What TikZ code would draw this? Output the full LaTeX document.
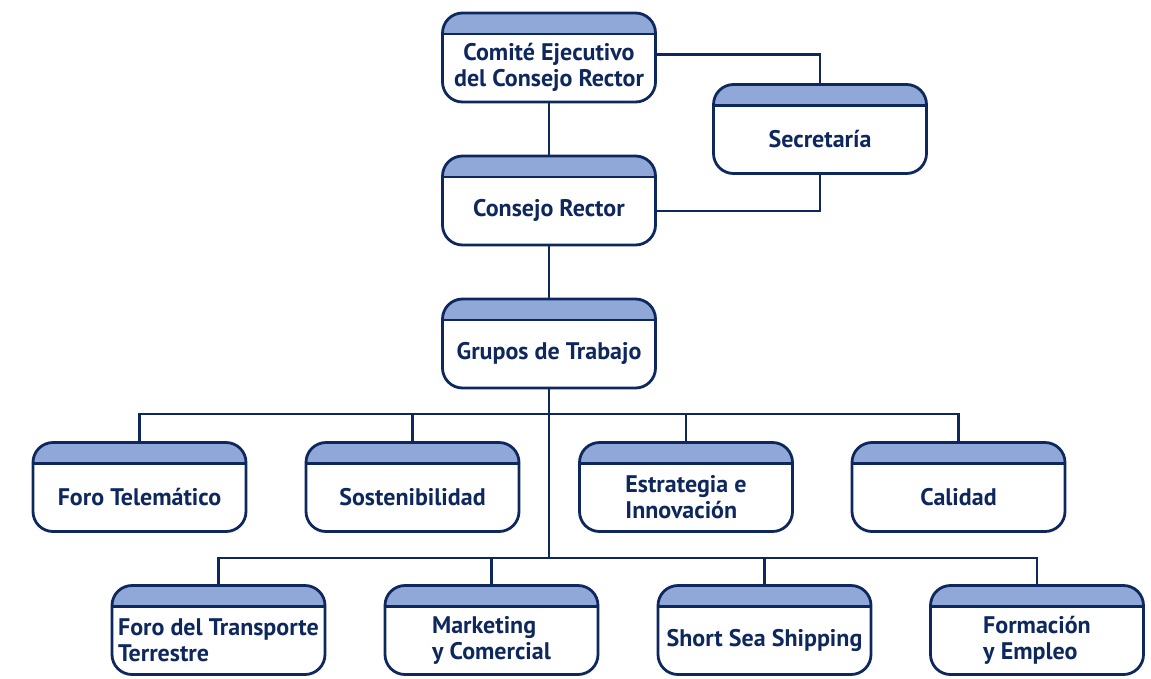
\documentclass[tikz,border=0pt]{standalone}
\usepackage{xcolor}
\usepackage{fontspec}
\setmainfont{PT Sans}
\usepackage{tikz}
\usetikzlibrary{positioning,calc}
\definecolor{navy}{RGB}{14,40,94}
\definecolor{bandblue}{RGB}{143,168,215}
\tikzset{
  box/.style={rectangle,rounded corners=20pt,fill=white,outer sep=0pt,
    minimum width=213pt,minimum height=89pt,inner sep=0pt},
  frame/.style={draw=navy,line width=2.8pt,rounded corners=20pt},
  txt/.style={font=\bfseries\fontsize{24}{26}\selectfont,text=navy,align=center,yshift=-10pt},
  link/.style={draw=navy,line width=2.6pt}
}
\begin{document}
\begin{tikzpicture}[x=1pt,y=-1pt]
\useasboundingbox (0,0) rectangle (1151,678);
% top
\node[box,label={[txt]center:Comité Ejecutivo\\del Consejo Rector}] (cej) at (549,57.5) {};
\node[box,label={[txt]center:Secretaría}] (sec) at (820,129) {};
\node[box,label={[txt]center:Consejo Rector}] (cr) at (549,200.5) {};
\node[box,label={[txt]center:Grupos de Trabajo}] (gt) at (549,343.5) {};
% first row
\node[box,label={[txt]center:Foro Telemático}] (ftel) at (139.5,487) {};
\node[box,label={[txt]center:Sostenibilidad}] (sost) at (412.5,487) {};
\node[box,label={[txt,align=left]center:Estrategia e\\Innovación}] (estr) at (686,487) {};
\node[box,label={[txt]center:Calidad}] (cal) at (958.5,487) {};
% second row
\node[box,label={[txt,align=left]center:Foro del Transporte\\Terrestre}] (ftt) at (218.5,630) {};
\node[box,label={[txt,align=left]center:Marketing\\y Comercial}] (mkt) at (491.5,630) {};
\node[box,label={[txt]center:Short Sea Shipping}] (sss) at (764.5,630) {};
\node[box,label={[txt,align=left]center:Formación\\y Empleo}] (form) at (1037,630) {};
% header bands and frames
\foreach \n in {cej,sec,cr,gt,ftel,sost,estr,cal,ftt,mkt,sss,form}{
  \begin{scope}
    \clip[rounded corners=20pt] (\n.south west) rectangle (\n.north east);
    \fill[bandblue] (\n.north west) rectangle ([yshift=-21pt]\n.north east);
  \end{scope}
  \draw[navy,line width=2.8pt] ([yshift=-21pt]\n.north west) -- ([yshift=-21pt]\n.north east);
  \draw[frame] (\n.south west) rectangle (\n.north east);
}
\coordinate (bus1) at (549,414);
\coordinate (bus2) at (549,558);
% links
\draw[link] (cej.south) -- (cr.north);
\draw[link] ([yshift=3pt]cej.east) -| (sec.north);
\draw[link] (sec.south) |- ($(cr.east)+(0,10.5)$);
\draw[link] (cr.south) -- (gt.north);
\draw[link] (gt.south) -- (bus2);
\draw[link] (ftel.north) |- (bus1) -| (cal.north);
\draw[link] (ftt.north) |- (bus2) -| (form.north);
\foreach \n in {sost,estr}
  \draw[link] (\n.north) -- (\n.north |- bus1);
\foreach \n in {mkt,sss}
  \draw[link] (\n.north) -- (\n.north |- bus2);
\end{tikzpicture}
\end{document}
